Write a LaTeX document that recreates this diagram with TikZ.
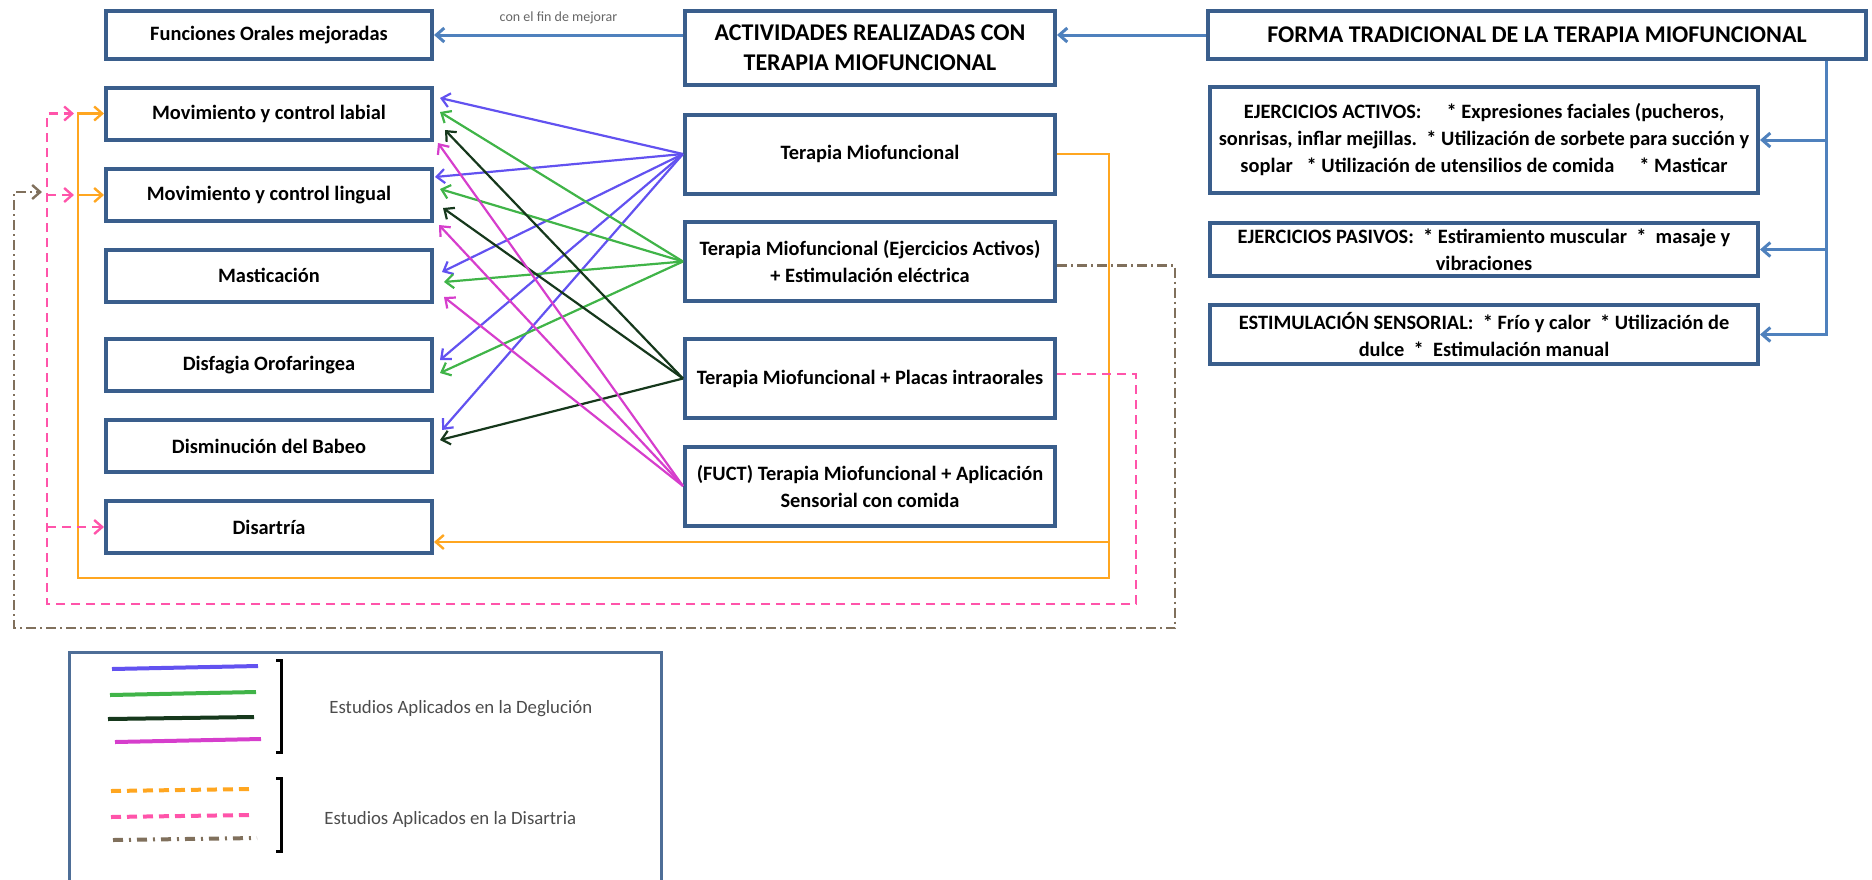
\documentclass[tikz,border=0pt]{standalone}
\usepackage{fontspec}
\setmainfont{Carlito}
\usetikzlibrary{positioning,arrows.meta}

\definecolor{boxblue}{RGB}{58,94,140}
\definecolor{linkblue}{RGB}{79,129,189}
\definecolor{viol}{RGB}{98,82,240}
\definecolor{verde}{RGB}{64,180,72}
\definecolor{oscuro}{RGB}{22,56,28}
\definecolor{magen}{RGB}{214,62,204}
\definecolor{naranja}{RGB}{255,166,32}
\definecolor{rosa}{RGB}{255,84,170}
\definecolor{cafe}{RGB}{128,112,92}

\begin{document}
\begin{tikzpicture}[x=0.5pt,y=0.5pt,on grid,
    >={Straight Barb[length=4pt,width=7pt]},
    box/.style={draw=boxblue,line width=2pt,fill=white,align=center,inner sep=0pt,
      font=\fontsize{10.2}{13.5}\selectfont\bfseries},
    title/.style={box,font=\fontsize{12}{15}\selectfont\bfseries},
    leftbox/.style={box,minimum width=163pt,minimum height=26pt},
    midbox/.style={box,minimum width=185pt,minimum height=39.5pt},
    rightbox/.style={box,minimum width=274pt},
    link/.style={->,draw=linkblue,line width=1.5pt},
    study/.style={->,line width=1.1pt},
    orangeline/.style={naranja,line width=1.2pt},
    pinkline/.style={rosa,line width=1.2pt,dash pattern=on 4.5pt off 3pt},
    brownline/.style={cafe,line width=1.2pt,dash pattern=on 5pt off 2pt on 1pt off 2pt},
    legendtext/.style={anchor=west,inner sep=0pt,text=black!70,font=\fontsize{9.4}{11}\selectfont}]
  \useasboundingbox (0,0) rectangle (1872,-879);

  % columna izquierda
  \node[leftbox,minimum height=24pt] (fun) at (269,-35) {Funciones Orales mejoradas};
  \node[leftbox] (lab) [below=39.25pt of fun] {Movimiento y control labial};
  \node[leftbox] (lin) [below=40.75pt of lab] {Movimiento y control lingual};
  \node[leftbox] (mas) [below=40.25pt of lin] {Masticación};
  \node[leftbox] (dis) [below=44.75pt of mas] {Disfagia Orofaringea};
  \node[leftbox] (bab) [below=40.5pt of dis] {Disminución del Babeo};
  \node[leftbox] (dsa) [below=40.5pt of bab] {Disartría};

  % columna central
  \node[title,minimum width=185pt,minimum height=37pt] (act) at (870,-48)
    {ACTIVIDADES REALIZADAS CON\\TERAPIA MIOFUNCIONAL};
  \node[midbox] (tm) [below=53pt of act] {Terapia Miofuncional};
  \node[midbox] (tme) [below=53.75pt of tm]
    {Terapia Miofuncional (Ejercicios Activos)\\+ Estimulación eléctrica};
  \node[midbox] (tpl) [below=58.5pt of tme] {Terapia Miofuncional + Placas intraorales};
  \node[midbox] (tfu) [below=53.75pt of tpl]
    {(FUCT) Terapia Miofuncional + Aplicación\\Sensorial con comida};

  % columna derecha
  \node[title,minimum width=329pt,minimum height=24pt] (forma) at (1537,-35)
    {FORMA TRADICIONAL DE LA TERAPIA MIOFUNCIONAL};
  \node[rightbox,minimum height=53pt] (eja) [below left=52.5pt and 26.5pt of forma]
    {EJERCICIOS ACTIVOS:\quad\ * Expresiones faciales (pucheros,\\
     sonrisas, inflar mejillas.\ \ * Utilización de sorbete para succión y\\
     soplar\ \ \ * Utilización de utensilios de comida\quad\ * Masticar};
  \node[rightbox,minimum height=26.5pt] (ejp) [below=54.75pt of eja]
    {EJERCICIOS PASIVOS:\ \ * Estiramiento muscular\ \ *\ \ masaje y\\vibraciones};
  \node[rightbox,minimum height=29.5pt] (est) [below=42.5pt of ejp]
    {ESTIMULACIÓN SENSORIAL:\ \ * Frío y calor\ \ * Utilización de\\dulce\ \ *\ \ Estimulación manual};

  % flechas superiores
  \draw[link] (forma.west) -- (forma.west -| act.east);
  \draw[link] (fun.east -| act.west) -- node[above=1.5pt,text=black!60,
      font=\fontsize{7}{8}\selectfont] (fin) {con el fin de mejorar} (fun.east);
  \coordinate (fV) at ([xshift=144.5pt]forma.south);
  \draw[link] (fV) |- (est.east);
  \draw[link] (fV |- eja.east) -- (eja.east);
  \draw[link] (fV |- ejp.east) -- (ejp.east);

  % estudios en la deglucion
  \path[study,viol]
    (tm.west) edge ([shift={(6,15.5)}]lab.east)
              edge ([shift={(1,18)}]lin.east)
              edge ([shift={(8,3.5)}]mas.east)
              edge ([shift={(6,5)}]dis.east)
              edge ([shift={(8,16)}]bab.east);
  \path[study,verde]
    (tme.west) edge ([shift={(6,1.5)}]lab.east)
               edge ([shift={(6,6)}]lin.east)
               edge ([shift={(10,-6.5)}]mas.east)
               edge ([shift={(6,-8)}]dis.east);
  \path[study,oscuro]
    (tpl.west) edge ([shift={(11,-16.5)}]lab.east)
               edge ([shift={(9,-13)}]lin.east)
               edge ([shift={(6,6)}]bab.east);
  \path[study,magen]
    (tfu.west) edge ([shift={(4,-29.5)}]lab.east)
               edge ([shift={(5,-30)}]lin.east)
               edge ([shift={(10,-21.5)}]mas.east);

  % estudios en la disartria
  \coordinate (or1) at ([xshift=26pt]tm.east);
  \coordinate (oB) at (78,-578);
  \coordinate (dsaIn) at ([yshift=-7.5pt]dsa.east);
  \draw[orangeline,->] (tm.east) -- (or1) |- (oB) |- (lab.west);
  \draw[orangeline,->] (oB |- lin.west) -- (lin.west);
  \draw[orangeline,->] (dsaIn -| or1) -- (dsaIn);

  \coordinate (pR) at ([xshift=39.5pt,yshift=2.25pt]tpl.east);
  \coordinate (pB) at (47,-604);
  \draw[pinkline,->] ([yshift=2.25pt]tpl.east) -- (pR) |- (pB) |- ([xshift=-2pt]oB |- lab.west);
  \draw[pinkline,->] (pB |- lin.west) -- ([xshift=-2pt]oB |- lin.west);
  \draw[pinkline,->] (pB |- dsa.west) -- (dsa.west);

  \coordinate (cR) at ([xshift=59pt,yshift=-2pt]tme.east);
  \coordinate (cB) at (14,-628);
  \coordinate (cEnd) at (42,-192);
  \draw[brownline,->] ([yshift=-2pt]tme.east) -- (cR) |- (cB) |- (cEnd);

  % leyenda
  \draw[boxblue!90,line width=1.5pt] (69,-652) rectangle (661,-900);
  \draw[viol,line width=2pt] (112,-669) -- (258,-666);
  \draw[verde,line width=2pt] (110,-695) -- (256,-692);
  \draw[oscuro,line width=2pt] (108,-719) -- (254,-717);
  \draw[magen,line width=2pt] (115,-742) -- (261,-739);
  \draw[line width=1.5pt] (276,-660) -- (281,-660) -- (281,-752) -- (276,-752);
  \node[legendtext] (ldeg) at (329,-709) {Estudios Aplicados en la Deglución};
  \draw[naranja,line width=2pt,dash pattern=on 5pt off 3pt] (111,-791) -- (249,-789);
  \draw[rosa,line width=2pt,dash pattern=on 5pt off 3pt] (111,-817) -- (249,-815);
  \draw[cafe,line width=2pt,dash pattern=on 5pt off 3pt on 1pt off 3pt] (113,-840) -- (257,-838);
  \draw[line width=1.5pt] (276,-778) -- (281,-778) -- (281,-851) -- (276,-851);
  \node[legendtext] (ldis) at (324,-819) {Estudios Aplicados en la Disartria};
\end{tikzpicture}
\end{document}
